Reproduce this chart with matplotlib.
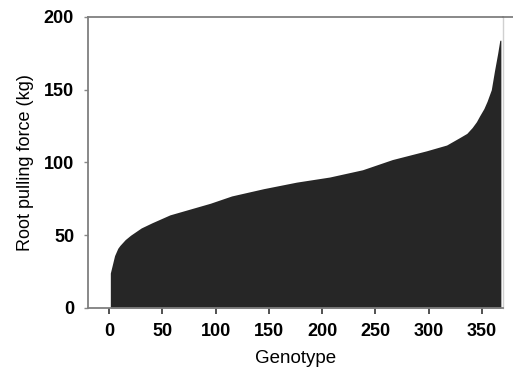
import matplotlib.pyplot as plt
from matplotlib.lines import Line2D

# sorted root pulling force at selected genotype ranks
genotype = [1, 3, 5, 8, 10, 15, 20, 30, 40, 57, 76, 95, 115, 145, 176, 207,
            238, 266, 298, 317, 329, 336, 341, 345, 348, 352, 355, 359, 362,
            365, 367, 368]
force = [24, 30, 36, 41, 43, 47, 50, 55, 58.5, 64, 68, 72, 77, 82, 86.5, 90,
         95, 102, 108, 112, 117, 120, 124, 128, 132, 137, 142, 150, 163,
         175, 184, 184]

xticks = [0, 50, 100, 150, 200, 250, 300, 350]
yticks = [0, 50, 100, 150, 200]

plt.rcParams['font.family'] = 'Liberation Sans'

fig = plt.figure(figsize=(5.13, 3.75), dpi=100)
ax = fig.add_axes([0.1715, 0.1787, 0.9805 - 0.1715, 0.9547 - 0.1787])

ax.fill_between(genotype, force, 0, color='#262626', linewidth=0)

ax.set_xlim(-20, 370)
ax.set_ylim(0, 200)
ax.set_xticks(xticks)
ax.set_yticks(yticks)
for lab in ax.get_xticklabels() + ax.get_yticklabels():
    lab.set_fontweight('bold')
ax.tick_params(axis='x', length=4, width=1.2, color='#333333', pad=7,
               labelsize=13)
ax.tick_params(axis='y', length=3, width=1.0, color='#888888', pad=7,
               labelsize=13)

for side in ['left', 'bottom', 'top']:
    ax.spines[side].set_color('#7f7f7f')
    ax.spines[side].set_linewidth(1.3)
ax.spines['right'].set_color('#d0d0d0')
ax.spines['right'].set_linewidth(1.0)

# top border of the scanned frame runs out to the page edge
fig.add_artist(Line2D([0.9805, 1.0], [0.9547, 0.9547], color='#7f7f7f',
                      linewidth=1.3))

ax.set_xlabel('Genotype', fontsize=13.5, labelpad=7)
ax.set_ylabel('Root pulling force (kg)', fontsize=13, labelpad=7)

fig.savefig('out.png', dpi=100)
